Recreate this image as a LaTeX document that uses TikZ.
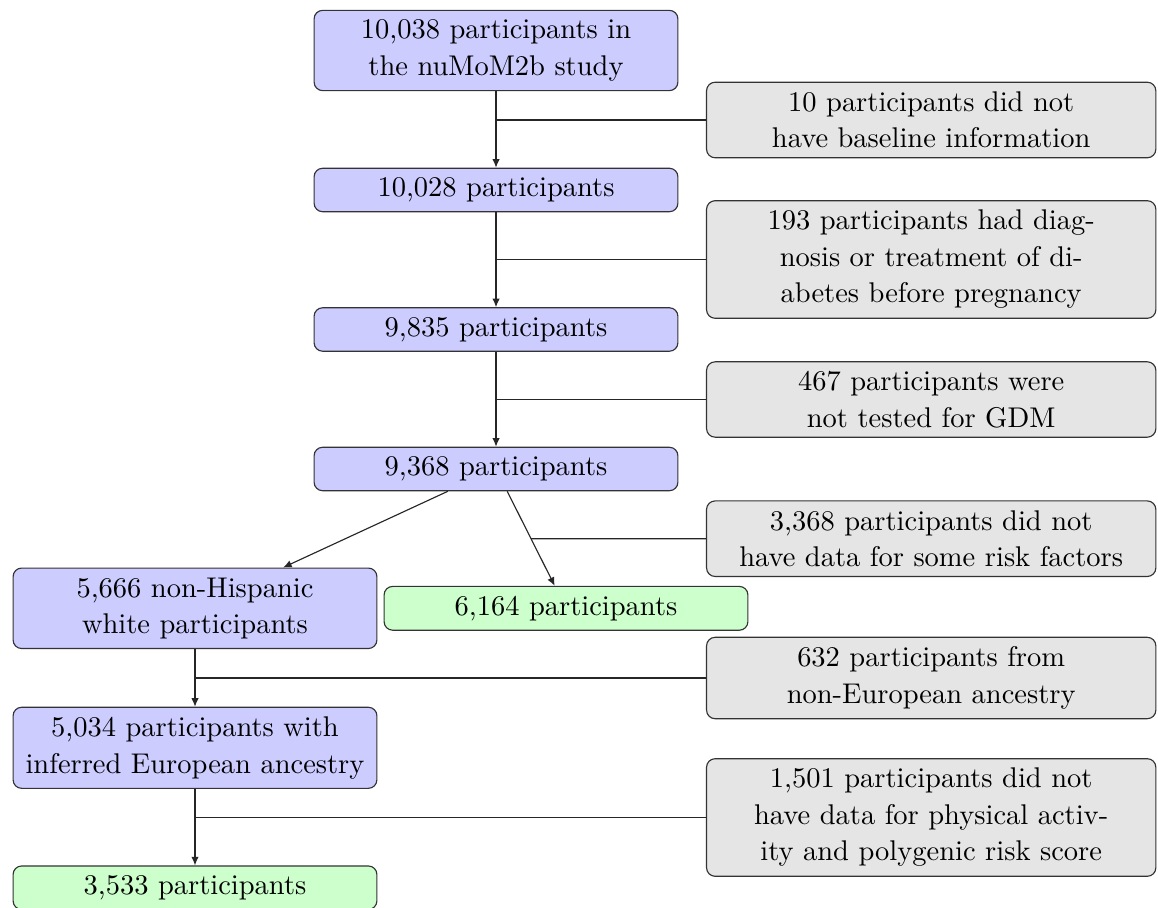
\documentclass[tikz,border=0pt]{standalone}
\usetikzlibrary{arrows.meta,calc}
\tikzset{
  base/.style={draw=black!80, rounded corners=3pt, align=center, inner sep=3.33pt,
    font=\fontsize{10}{12.8}\selectfont, line width=0.4pt},
  bluebox/.style={base, fill=blue!20, text width=121pt},
  greenbox/.style={base, fill=green!20, text width=121pt},
  graybox/.style={base, fill=gray!20, text width=151pt},
  arr/.style={draw=black!85, -{Latex[length=3pt,width=2.6pt]}},
  ln/.style={draw=black!85}
}
\begin{document}
\begin{tikzpicture}[x=0.3509pt,y=-0.3509pt]
\useasboundingbox (0,0) rectangle (1158,908);
% main column
\node[bluebox] (b1) at (496,50.5) {10,038 participants in\\the nuMoM2b study};
\node[bluebox] (b2) at (496,190) {10,028 participants};
\node[bluebox] (b3) at (496,329.5) {9,835 participants};
\node[bluebox] (b4) at (496,469) {9,368 participants};
\node[bluebox] (b5) at (195,608.3) {5,666 non-Hispanic\\white participants};
\node[greenbox] (f1) at (566,608.3) {6,164 participants};
\node[bluebox] (b6) at (195,747.8) {5,034 participants with\\inferred European ancestry};
\node[greenbox] (f2) at (195,887.7) {3,533 participants};
% exclusion boxes
\node[graybox] (g1) at (931.2,120) {10 participants did not\\have baseline information};
\node[graybox] (g2) at (931.2,259.5) {193 participants had diag-\\nosis or treatment of di-\\abetes before pregnancy};
\node[graybox] (g3) at (931.2,399.5) {467 participants were\\not tested for GDM};
\node[graybox] (g4) at (931.2,538.7) {3,368 participants did not\\have data for some risk factors};
\node[graybox] (g5) at (931.2,678) {632 participants from\\non-European ancestry};
\node[graybox] (g6) at (931.2,817.5) {1,501 participants did not\\have data for physical activ-\\ity and polygenic risk score};
% arrows
\draw[arr] (b1) -- (b2);
\draw[arr] (b2) -- (b3);
\draw[arr] (b3) -- (b4);
\draw[arr] (b4) -- (b5);
\draw[arr] (b4) -- (f1);
\draw[arr] (b5) -- (b6);
\draw[arr] (b6) -- (f2);
% side lines
\draw[ln] (g1.west) -- (g1.west -| b1);
\draw[ln] (g2.west) -- (g2.west -| b2);
\draw[ln] (g3.west) -- (g3.west -| b3);
\coordinate (m4) at (intersection of b4.center--f1.center and g4.west--g4.east);
\draw[ln] (g4.west) -- (m4);
\draw[ln] (g5.west) -- (g5.west -| b5);
\draw[ln] (g6.west) -- (g6.west -| b6);
\end{tikzpicture}
\end{document}
